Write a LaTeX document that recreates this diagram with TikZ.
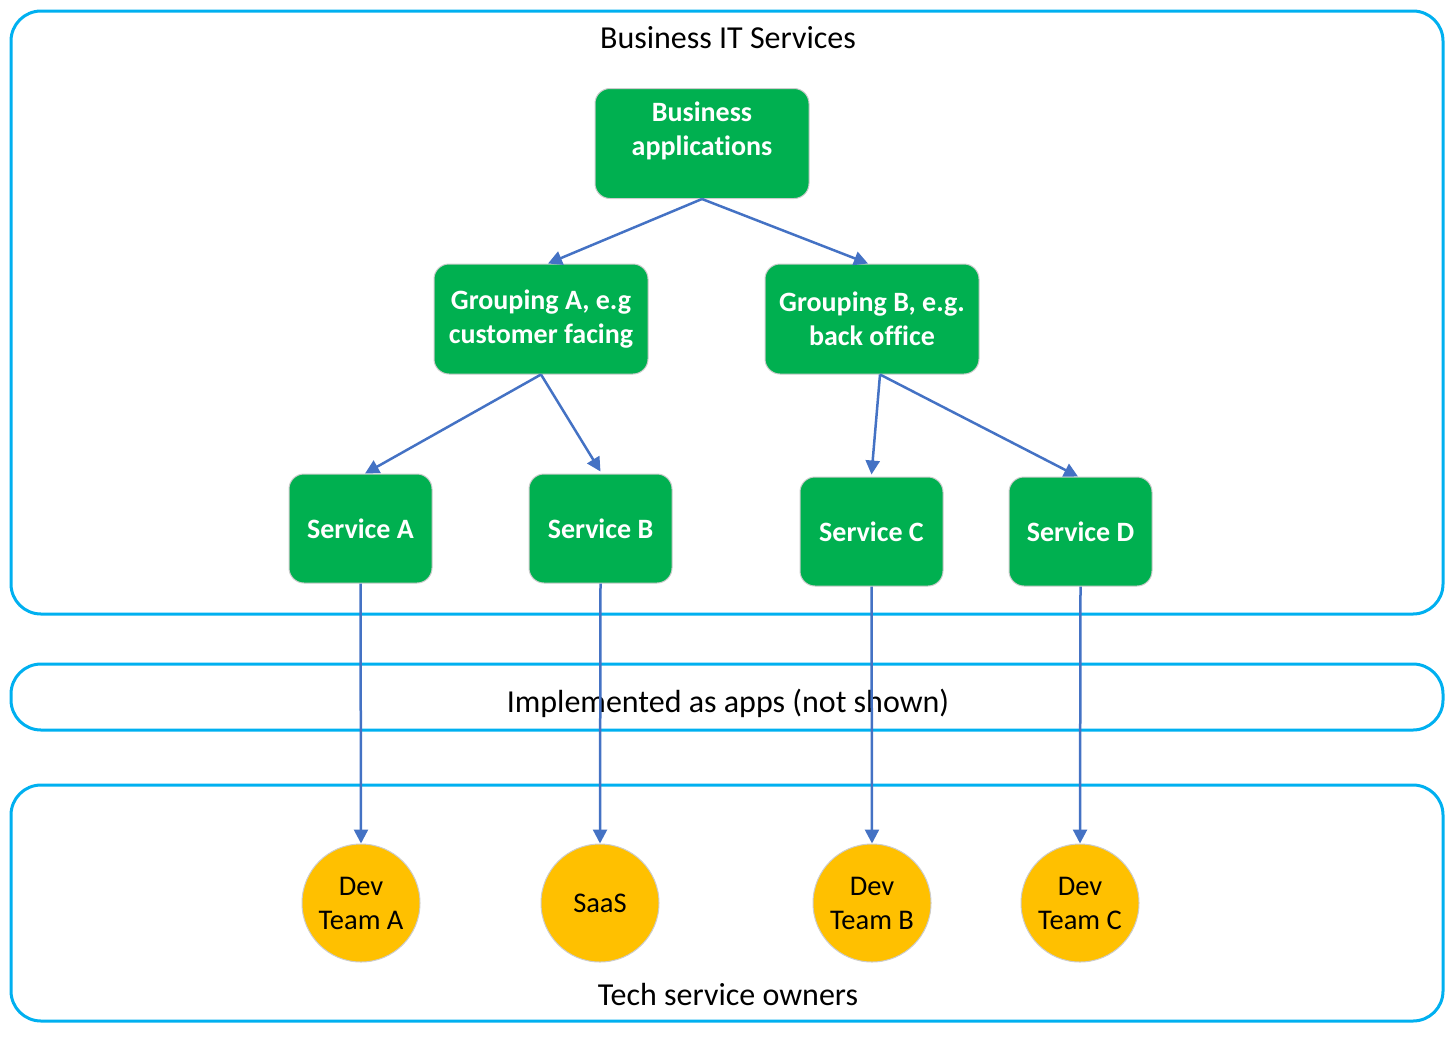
\documentclass[tikz,border=0pt]{standalone}
\usepackage{fontspec}
\setmainfont{Carlito}[Ligatures=NoCommon]
\usetikzlibrary{arrows.meta}
\definecolor{frameblue}{HTML}{00B0F0}
\definecolor{svcgreen}{HTML}{00B050}
\definecolor{ownergold}{HTML}{FFC000}
\definecolor{linkblue}{HTML}{4472C4}
\tikzset{
  band/.style={draw=frameblue, line width=3pt, rounded corners=30pt},
  bandlabel/.style={font=\fontsize{32}{36}\selectfont, text=black},
  svctext/.style={text=white, font=\bfseries\fontsize{28}{34}\selectfont, align=center, inner sep=0pt},
  svcbox/.style={svctext, draw=black!20, line width=1pt, fill=svcgreen, rounded corners=15pt,
    minimum width=214pt, minimum height=110pt},
  leafbox/.style={svcbox, minimum width=143pt, minimum height=109pt},
  owner/.style={circle, draw=black!20, line width=1pt, fill=ownergold, minimum size=118pt,
    inner sep=0pt, align=center, font=\fontsize{28.5}{34}\selectfont},
  link/.style={draw=linkblue, line width=2.5pt, -{Triangle[length=14pt,width=14pt]}}
}
\begin{document}
\begin{tikzpicture}[x=1pt,y=-1pt]
\useasboundingbox (0,0) rectangle (1455,1039);
% the three horizontal bands
\draw[band] (11,11) rectangle (1443,614);
\draw[band] (11,664) rectangle (1443,730);
\draw[band] (11,785) rectangle (1443,1021);
\node[bandlabel] (top) at (728,38) {Business IT Services};
\node[bandlabel] (mid) at (728,703) {Implemented as apps (not shown)};
\node[bandlabel] (bot) at (728,994) {Tech service owners};
% service hierarchy
\node[svcbox] (ba) at (702,143.5) {};
\node[svctext] (batext) at ([yshift=12.5pt]ba.center) {Business\\applications};
\node[svcbox] (ga) at (541,319) {Grouping A, e.g\\customer facing};
\node[svcbox] (gb) at (872,319) {Grouping B, e.g.\\back office};
\node[leafbox] (sa) at (360.5,528.5) {Service A};
\node[leafbox] (sb) at (600.5,528.5) {Service B};
\node[leafbox] (sc) at (871.5,531.5) {Service C};
\node[leafbox] (sd) at (1080.5,531.5) {Service D};
% owners
\node[owner] (oa) at (361,903) {Dev\\Team A};
\node[owner] (ob) at (600,903) {SaaS};
\node[owner] (oc) at (872,903) {Dev\\Team B};
\node[owner] (od) at (1080,903) {Dev\\Team C};
% connectors
\draw[link] (ba.south) -- ([xshift=7pt]ga.north);
\draw[link] (ba.south) -- ([xshift=-4pt]gb.north);
\draw[link] (ga.south) -- ([xshift=4.5pt]sa.north);
\draw[link] (ga.south) -- ([yshift=2pt]sb.north);
\draw[link] ([xshift=8pt]gb.south) -- ([yshift=2pt]sc.north);
\draw[link] ([xshift=8pt]gb.south) -- ([xshift=-2.5pt]sd.north);
\draw[link] (sa.south) -- (oa.north);
\draw[link] (sb.south) -- (ob.north);
\draw[link] (sc.south) -- (oc.north);
\draw[link] (sd.south) -- (od.north);
\end{tikzpicture}
\end{document}
